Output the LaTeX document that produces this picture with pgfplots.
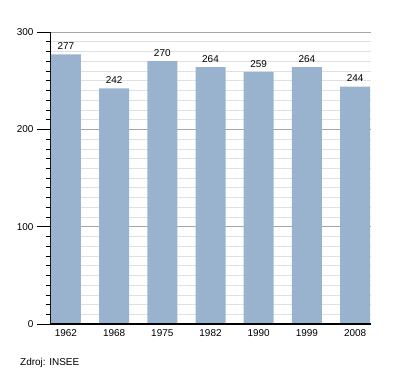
\documentclass[border=0pt]{standalone}
\usepackage{fontspec}
\setmainfont{Liberation Sans}
\usepackage{pgfplots}
\pgfplotsset{compat=1.18}
\definecolor{barblue}{HTML}{99B3CF}
\begin{document}
\fontsize{10}{12}\selectfont
\begin{tikzpicture}
\path[use as bounding box] (0,0) rectangle (400bp,373bp);
\begin{axis}[at={(50bp,49bp)}, anchor=south west, width=321bp, height=292bp, scale only axis,
  xmin=-0.33, xmax=6.33, ymin=0, ymax=300,
  xtick={0,...,6}, xticklabels={1962,1968,1975,1982,1990,1999,2008},
  ytick={0,100,200,300}, minor y tick num=9,
  ymajorgrids, yminorgrids,
  major grid style={draw=black!35, line width=0.6pt},
  minor grid style={draw=black!12, line width=0.5pt},
  axis lines*=left,
  axis line style={line width=0.9pt},
  x axis line style={line width=1.2pt},
  tick align=outside,
  major tick length=13bp, minor tick length=4bp,
  y tick style={black, line width=0.6pt},
  x tick style={draw=none},
  tick label style={font=\fontsize{10}{12}\selectfont},
  /pgf/number format/assume math mode=true,
  xticklabel style={yshift=11bp},
]
\addplot[ybar, bar width=30bp, fill=barblue, draw=none,
  nodes near coords,
  nodes near coords style={font=\fontsize{10}{12}\selectfont, black, yshift=1bp}]
  coordinates {(0,277) (1,242) (2,270) (3,264) (4,259) (5,264) (6,244)};
\addplot[sharp plot, black, line width=1.2pt, mark=none] coordinates {(-0.33,0) (6.33,0)};
\end{axis}
\node[anchor=west, inner sep=0pt] at (20bp,10bp) {Zdroj: INSEE};
\end{tikzpicture}
\end{document}
